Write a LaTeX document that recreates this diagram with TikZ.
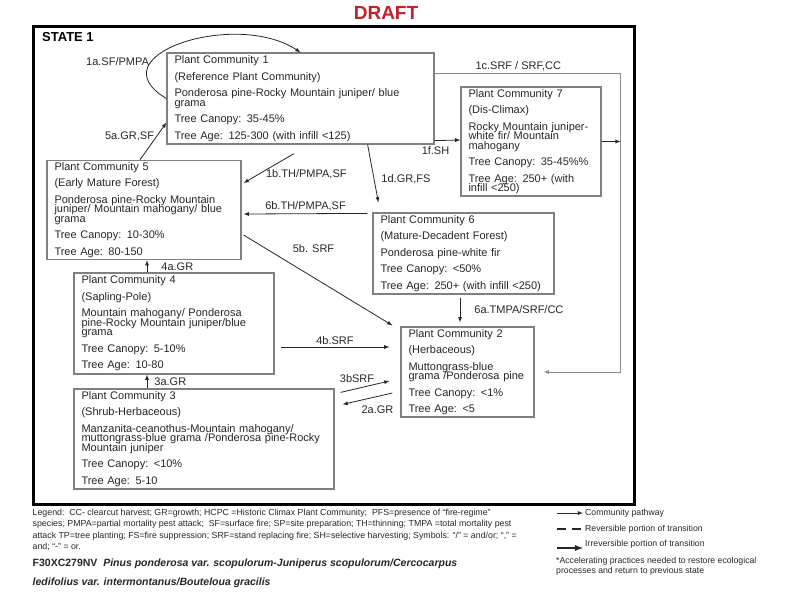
\documentclass[tikz,border=0pt]{standalone}
\usepackage{fontspec}
\setmainfont{Liberation Sans}
\usepackage{tikz}
\usetikzlibrary{arrows}
\definecolor{boxgray}{rgb}{0.50,0.50,0.50}
\definecolor{linegray}{rgb}{0.15,0.15,0.15}
\definecolor{railgray}{rgb}{0.55,0.55,0.55}
\definecolor{draftred}{rgb}{0.76,0.13,0.16}
\tikzset{%
  community/.style={rectangle, draw=boxgray, line width=1.2pt, align=left, text=black!85,
    font=\fontsize{11}{9.5}\selectfont, execute at begin node={\setlength{\lineskiplimit}{-20pt}},
    inner xsep=7.5pt, inner ysep=2pt},
  pathway/.style={-latex, draw=linegray, line width=0.8pt},
  lbl/.style={font=\fontsize{11}{11}\selectfont, text=black!85, inner sep=2pt},
  legendtext/.style={font=\fontsize{8.8}{11.3}\selectfont, align=left, inner sep=0pt, text=black!85}
}

\begin{document}
\begin{tikzpicture}[x=1pt, y=-1pt]
        \useasboundingbox (0,0) rectangle (800,600);
        \node [font=\fontsize{19}{19}\bfseries\selectfont, text=draftred] (draft) at (386,13) {DRAFT};
        \draw [line width=3pt] (33.5,26.5) rectangle (634,504);
        \node [font=\fontsize{13}{13}\bfseries\selectfont, anchor=west, inner sep=0pt] (state) at (42,37) {STATE 1};

        \node [community, minimum width=267pt, minimum height=91pt, text width=252pt] (pc1) at (300.5,98.5)
          {Plant Community 1\\[7pt](Reference Plant Community)\\[7pt]Ponderosa pine-Rocky Mountain juniper/ blue\\grama\\[7pt]Tree Canopy: 35-45\%\\[7pt]Tree Age: 125-300 (with infill <125)};
        \node [community, right of=pc1, node distance=230.5pt, yshift=-43pt, minimum width=140pt, minimum height=109pt, text width=125pt] (pc7)
          {Plant Community 7\\[7pt](Dis-Climax)\\[7pt]Rocky Mountain juniper-\\white fir/ Mountain\\mahogany\\[7pt]Tree Canopy: 35-45\%\%\\[7pt]Tree Age: 250+ (with\\infill <250)};
        \node [community, below of=pc1, node distance=111.5pt, xshift=-156.5pt, minimum width=194pt, minimum height=98pt, text width=179pt] (pc5)
          {Plant Community 5\\[7pt](Early Mature Forest)\\[7pt]Ponderosa pine-Rocky Mountain\\juniper/ Mountain mahogany/ blue\\grama\\[7pt]Tree Canopy: 10-30\%\\[7pt]Tree Age: 80-150};
        \node [community, below of=pc1, node distance=155pt, xshift=163pt, minimum width=181pt, minimum height=81pt, text width=166pt] (pc6)
          {Plant Community 6\\[7pt](Mature-Decadent Forest)\\[7pt]Ponderosa pine-white fir\\[7pt]Tree Canopy: <50\%\\[7pt]Tree Age: 250+ (with infill <250)};
        \node [community, below of=pc6, node distance=118.5pt, xshift=4pt, minimum width=133pt, minimum height=90pt, text width=118pt] (pc2)
          {Plant Community 2\\[7pt](Herbaceous)\\[7pt]Muttongrass-blue\\grama /Ponderosa pine\\[7pt]Tree Canopy: <1\%\\[7pt]Tree Age: <5};
        \node [community, below of=pc5, node distance=113.5pt, xshift=30pt, minimum width=200pt, minimum height=101pt, text width=185pt] (pc4)
          {Plant Community 4\\[7pt](Sapling-Pole)\\[7pt]Mountain mahogany/ Ponderosa\\pine-Rocky Mountain juniper/blue\\grama\\[7pt]Tree Canopy: 5-10\%\\[7pt]Tree Age: 10-80};
        \node [community, below of=pc4, node distance=115.5pt, xshift=30pt, minimum width=260pt, minimum height=100pt, text width=245pt] (pc3)
          {Plant Community 3\\[7pt](Shrub-Herbaceous)\\[7pt]Manzanita-ceanothus-Mountain mahogany/\\muttongrass-blue grama /Ponderosa pine-Rocky\\Mountain juniper\\[7pt]Tree Canopy: <10\%\\[7pt]Tree Age: 5-10};

        \coordinate (rail) at ([xshift=86pt]pc2.east);

        % pathways
        \draw [pathway] (pc1.west) .. controls +(-72,-43) and +(-65,-43) .. node [lbl, pos=0.3, left] {1a.SF/PMPA} (pc1.north);
        \draw [pathway] ([xshift=-4pt]pc5.north) -- node [lbl, pos=0.62, left] {5a.GR,SF} ([yshift=22pt]pc1.south west);
        \draw [pathway] ([xshift=-6.5pt,yshift=-9pt]pc1.south) -- node [lbl, pos=0.7, right, xshift=5pt] {1b.TH/PMPA,SF} ([xshift=2pt,yshift=27pt]pc5.east);
        \draw [pathway, draw=railgray] ([yshift=25.5pt]pc1.east) -| node [lbl, pos=0.225, above] {1c.SRF / SRF,CC} (rail) -- ([xshift=9pt]pc2.east);
        \draw [pathway] ([xshift=-67pt]pc1.south east) -- node [lbl, pos=0.6, right, xshift=5pt] {1d.GR,FS} ([xshift=6pt,yshift=10pt]pc6.north west);
        \draw [pathway] ([yshift=4pt]pc1.south east) -- node [lbl, midway, below, xshift=-12pt, yshift=-4pt] {1f.SH} ([yshift=1.5pt]pc7.west);
        \draw [pathway] (pc7.east) -- (pc7.east -| rail);
        \draw [pathway] ([xshift=-5pt,yshift=-1pt]pc6.north west) -- node [lbl, midway, above] {6b.TH/PMPA,SF} ([xshift=2pt,yshift=-4pt]pc5.east);
        \draw [pathway] ([xshift=-3.5pt,yshift=-3pt]pc6.south) -- node [lbl, midway, right, xshift=12pt] {6a.TMPA/SRF/CC} ([xshift=-7.5pt,yshift=4pt]pc2.north);
        \draw [pathway] ([xshift=2pt,yshift=-25pt]pc5.east) -- node [lbl, pos=0.47, above=22pt] {5b. SRF} ([xshift=-8pt,yshift=1pt]pc2.north west);
        \draw [pathway] ([xshift=-27pt]pc4.north) -- node [lbl, midway, right, xshift=12pt] {4a.GR} ([xshift=3pt]pc5.south);
        \draw [pathway] ([xshift=6pt,yshift=-23.5pt]pc4.east) -- node [lbl, midway, above] {4b.SRF} ([xshift=-11pt,yshift=25pt]pc2.west);
        \draw [pathway] ([xshift=-57pt]pc3.north) -- node [lbl, midway, right, xshift=5pt] {3a.GR} ([xshift=-27pt]pc4.south);
        \draw [pathway] ([xshift=6pt,yshift=-4pt]pc3.north east) -- node [lbl, midway, above, xshift=-8pt, yshift=2pt] {3bSRF} ([xshift=-11pt,yshift=-9pt]pc2.west);
        \draw [pathway] ([xshift=-8pt,yshift=-21pt]pc2.west) -- node [lbl, midway, below, xshift=10pt, yshift=-5pt] {2a.GR} ([xshift=8pt,yshift=-16pt]pc3.north east);

        % legend
        \node [legendtext, anchor=north west] (legend) at (32.5,509)
          {Legend:\ \ CC- clearcut harvest; GR=growth; HCPC =Historic Climax Plant Community;\ \ PFS=presence of “fire-regime”\\
           species; PMPA=partial mortality pest attack;\ \ SF=surface fire; SP=site preparation; TH=thinning; TMPA =total mortality pest\\
           attack TP=tree planting; FS=fire suppression; SRF=stand replacing fire; SH=selective harvesting; Symbols: “/” = and/or; “,” =\\
           and; “-” = or.};
        \node [anchor=north west, inner sep=0pt, align=left, font=\fontsize{10.5}{19}\bfseries\selectfont, text=black!85] (title) at (32.5,559)
          {F30XC279NV\ \ \textit{Pinus ponderosa var. scopulorum-Juniperus scopulorum/Cercocarpus}\\\textit{ledifolius var. intermontanus/Bouteloua gracilis}};
        \node [legendtext, font=\fontsize{8.7}{10}\selectfont, anchor=west] (lgA) at (585,513) {Community pathway};
        \node [legendtext, font=\fontsize{8.7}{10}\selectfont, anchor=west] (lgB) at (585,529) {Reversible portion of transition};
        \node [legendtext, font=\fontsize{8.7}{10}\selectfont, anchor=west] (lgC) at (585,544) {Irreversible portion of transition};
        \node [legendtext, font=\fontsize{8.7}{10}\selectfont, anchor=north west] (lgD) at (556,557)
          {*Accelerating practices needed to restore ecological\\processes and return to previous state};
        \draw [pathway] ([xshift=-28pt]lgA.west) -- ([xshift=-2pt]lgA.west);
        \draw [draw=linegray, line width=2.5pt, dash pattern=on 9pt off 6pt] ([xshift=-28pt]lgB.west) -- ([xshift=-4pt]lgB.west);
        \draw [pathway, line width=1.8pt] ([xshift=-28pt,yshift=-4pt]lgC.west) -- ([xshift=-2pt,yshift=-4pt]lgC.west);
\end{tikzpicture}
\end{document}
